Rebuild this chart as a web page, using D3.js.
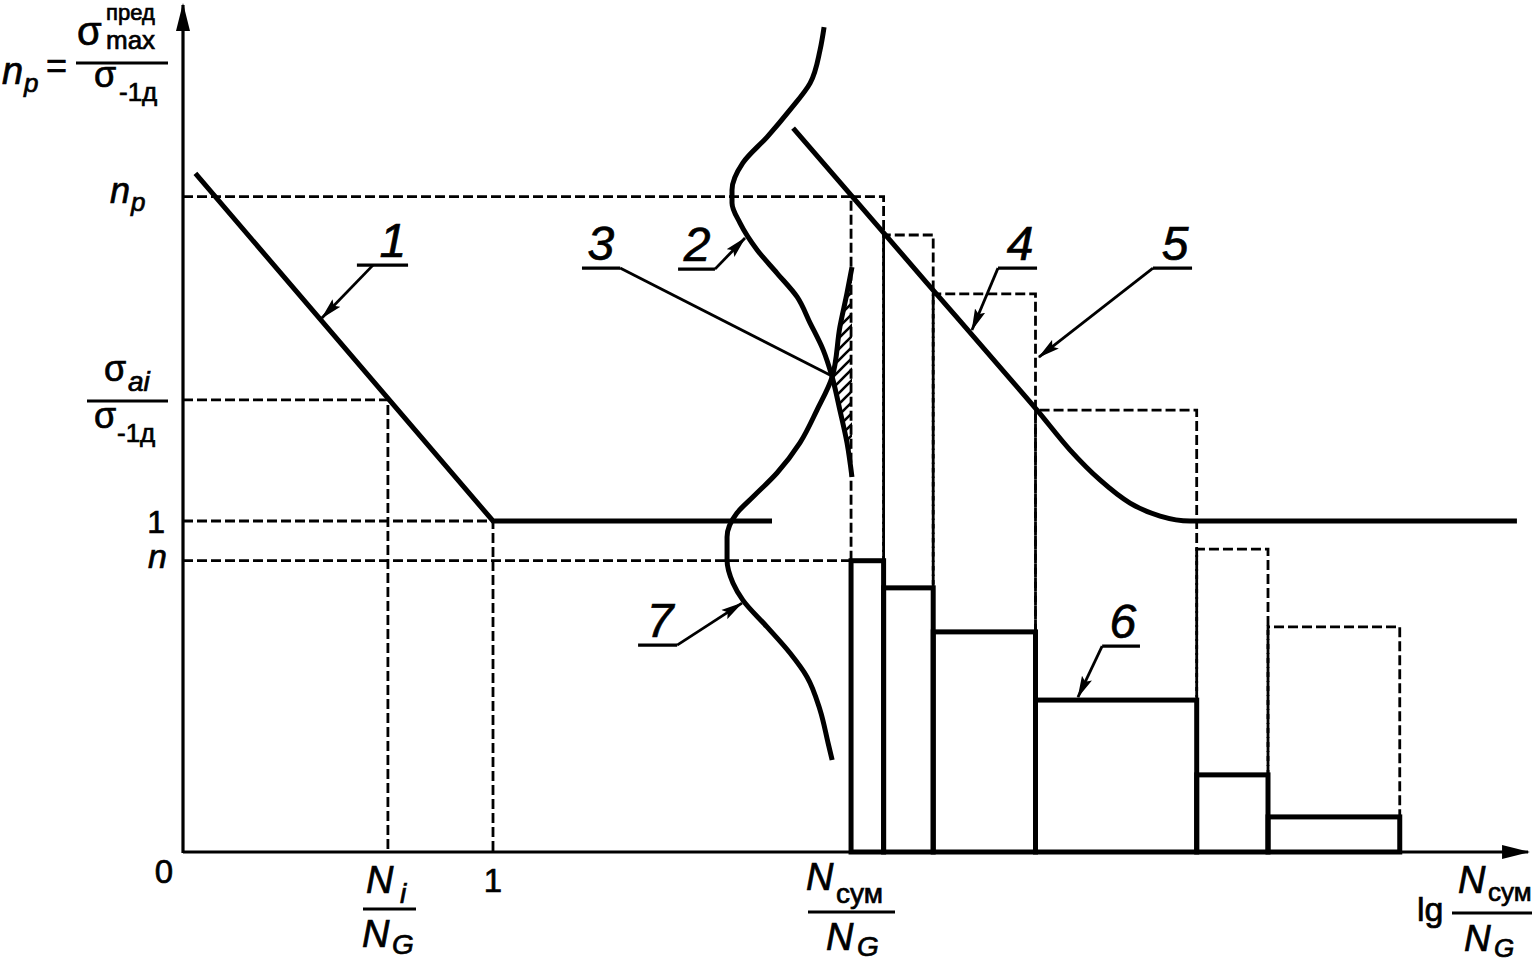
<!DOCTYPE html>
<html>
<head>
<meta charset="utf-8">
<script src="https://cdnjs.cloudflare.com/ajax/libs/d3/7.8.5/d3.min.js"></script>
<style>
  body { margin: 0; background: #fff; }
  svg { display: block; font-family: "Liberation Sans", Arial, sans-serif; }
  svg text { stroke: #000; stroke-width: 0.7; }
  .dash { fill: none; stroke: #000; stroke-width: 2.8; stroke-dasharray: 10 4; }
  .thick { fill: none; stroke: #000; stroke-width: 5; stroke-linejoin: miter; }
  .axis { stroke: #000; stroke-width: 3.2; }
  .lead { fill: none; stroke: #000; stroke-width: 2.8; }
</style>
</head>
<body>
<svg width="1535" height="962"></svg>
<script>
// ---- data (x = lg N/NG units, y = n units) ----
const lineOne = [[0.04, 2.05], [1, 1], [1.9, 1]];
const lineFour = [[1.968, 2.187], [2.4, 1.719], [2.65, 1.449], [2.755, 1.335], [2.861, 1.215],
  [2.958, 1.124], [3.055, 1.054], [3.152, 1.015], [3.248, 1.0], [4.303, 1.0]];
const curveTwo = [[2.068, 2.492], [2.055, 2.423], [2.023, 2.323], [1.958, 2.242], [1.884, 2.160],
  [1.806, 2.082], [1.771, 2.0], [1.771, 1.961], [1.797, 1.9], [1.852, 1.819], [1.916, 1.749],
  [1.981, 1.677], [2.023, 1.598], [2.065, 1.517], [2.094, 1.435], [2.119, 1.335], [2.142, 1.236],
  [2.158, 1.133]];
const curveSeven = [[2.158, 1.767], [2.142, 1.689], [2.119, 1.586], [2.094, 1.435], [2.045, 1.335],
  [1.99, 1.236], [1.916, 1.145], [1.839, 1.073], [1.787, 1.024], [1.755, 0.952], [1.755, 0.882],
  [1.774, 0.813], [1.806, 0.761], [1.884, 0.68], [1.958, 0.601], [2.013, 0.529], [2.055, 0.429],
  [2.081, 0.329], [2.094, 0.278]];
const crossY = 1.435;
const binEdges = [2.155, 2.26, 2.42, 2.75, 3.27, 3.5, 3.925];
const limitTops = [1.98, 1.864, 1.686, 1.335, 0.915, 0.68];
const loadTops = [0.88, 0.798, 0.665, 0.459, 0.233, 0.106];
const levelNp = 1.98, levelSai = 1.366, levelOne = 1, levelN = 0.88;
const xNi = 0.661, xOne = 1, xNsum = 2.155;
const xMax = 4.339, yMax = 2.559;

// callouts: tip point, underline span, leader start, label x
const callouts = [
  { label: "1", tip: [0.448, 1.613], ul: [0.561, 0.726], uy: 1.773, from: 0.613, tx: 0.677, arrow: true },
  { label: "2", tip: [1.813, 1.855], ul: [1.597, 1.716], uy: 1.761, from: 1.716, tx: 1.658, arrow: true },
  { label: "3", tip: [2.087, 1.441], ul: [1.287, 1.41], uy: 1.764, from: 1.41, tx: 1.348, arrow: false },
  { label: "4", tip: [2.545, 1.577], ul: [2.629, 2.755], uy: 1.764, from: 2.629, tx: 2.7, arrow: true },
  { label: "5", tip: [2.761, 1.495], ul: [3.129, 3.255], uy: 1.764, from: 3.129, tx: 3.2, arrow: true },
  { label: "6", tip: [2.887, 0.468], ul: [2.965, 3.087], uy: 0.622, from: 2.965, tx: 3.032, arrow: true },
  { label: "7", tip: [1.803, 0.752], ul: [1.468, 1.594], uy: 0.625, from: 1.594, tx: 1.539, arrow: true }
];

const svg = d3.select("svg");
const x = d3.scaleLinear().domain([0, 1]).range([183, 493]);
const y = d3.scaleLinear().domain([0, 1]).range([852, 521]);

const defs = svg.append("defs");
defs.append("marker")
  .attr("id", "axisArrow")
  .attr("viewBox", "0 -8 28 16")
  .attr("refX", 26).attr("refY", 0)
  .attr("markerUnits", "userSpaceOnUse")
  .attr("markerWidth", 28).attr("markerHeight", 16)
  .attr("orient", "auto")
  .append("path").attr("d", "M0,-7L28,0L0,7Z").attr("fill", "#000");
defs.append("marker")
  .attr("id", "leadArrow")
  .attr("viewBox", "0 -6 22 12")
  .attr("refX", 21).attr("refY", 0)
  .attr("markerUnits", "userSpaceOnUse")
  .attr("markerWidth", 22).attr("markerHeight", 12)
  .attr("orient", "auto")
  .append("path").attr("d", "M0,-5.5L22,0L0,5.5L4,0Z").attr("fill", "#000");
defs.append("pattern")
  .attr("id", "hatch")
  .attr("patternUnits", "userSpaceOnUse")
  .attr("width", 11).attr("height", 11)
  .append("path")
  .attr("d", "M-2,2L2,-2M0,11L11,0M9,13L13,9")
  .attr("stroke", "#000").attr("stroke-width", 2.6);

const line = d3.line()
  .x(function (d) { return x(d[0]); })
  .y(function (d) { return y(d[1]); });

// ---- dashed guides ----
const guides = [
  [[0, levelNp], [binEdges[0], levelNp]],
  [[0, levelSai], [xNi, levelSai], [xNi, 0]],
  [[0, levelOne], [xOne, levelOne], [xOne, 0]],
  [[0, levelN], [binEdges[0], levelN]]
];
svg.append("g").selectAll("path")
  .data(guides).enter().append("path")
  .attr("class", "dash")
  .attr("d", line);

// dashed limit bins
svg.append("g").selectAll("path")
  .data(limitTops).enter().append("path")
  .attr("class", "dash")
  .attr("d", function (d, i) {
    return line([[binEdges[i], loadTops[i]], [binEdges[i], d], [binEdges[i + 1], d],
      [binEdges[i + 1], i + 1 < loadTops.length ? loadTops[i + 1] : loadTops[i]]]);
  });

// solid load bins (6)
svg.append("g").selectAll("rect")
  .data(loadTops).enter().append("rect")
  .attr("class", "thick")
  .attr("x", function (d, i) { return x(binEdges[i]); })
  .attr("width", function (d, i) { return x(binEdges[i + 1]) - x(binEdges[i]); })
  .attr("y", function (d) { return y(d); })
  .attr("height", function (d) { return y(0) - y(d); });

// ---- axes ----
svg.append("line").attr("class", "axis")
  .attr("x1", x(0)).attr("y1", y(0)).attr("x2", x(xMax)).attr("y2", y(0))
  .attr("marker-end", "url(#axisArrow)");
svg.append("line").attr("class", "axis")
  .attr("x1", x(0)).attr("y1", y(0) + 1).attr("x2", x(0)).attr("y2", y(yMax))
  .attr("marker-end", "url(#axisArrow)");

// ---- hatched overlap of curves 2 and 7 ----
const overlap = curveTwo.filter(function (d) { return d[1] <= crossY; })
  .concat(curveSeven.filter(function (d) { return d[1] >= crossY; }));
svg.append("path")
  .attr("d", line(overlap) + "Z")
  .attr("fill", "url(#hatch)");

// ---- curves ----
svg.append("path").attr("class", "thick").attr("d", line(lineOne));
svg.append("path").attr("class", "thick")
  .attr("d", line.curve(d3.curveMonotoneX)(lineFour));
line.curve(d3.curveMonotoneY);
svg.append("path").attr("class", "thick").attr("d", line(curveTwo));
svg.append("path").attr("class", "thick").attr("d", line(curveSeven));
line.curve(d3.curveLinear);

// ---- callouts ----
const co = svg.append("g").selectAll("g")
  .data(callouts).enter().append("g");
co.append("line")
  .attr("stroke", "#000").attr("stroke-width", 3.2)
  .attr("x1", function (d) { return x(d.ul[0]); })
  .attr("x2", function (d) { return x(d.ul[1]); })
  .attr("y1", function (d) { return y(d.uy); })
  .attr("y2", function (d) { return y(d.uy); });
co.append("line")
  .attr("class", "lead")
  .attr("x1", function (d) { return x(d.from); })
  .attr("y1", function (d) { return y(d.uy); })
  .attr("x2", function (d) { return x(d.tip[0]); })
  .attr("y2", function (d) { return y(d.tip[1]); })
  .attr("marker-end", function (d) { return d.arrow ? "url(#leadArrow)" : null; });
co.append("text")
  .attr("x", function (d) { return x(d.tx); })
  .attr("y", function (d) { return y(d.uy) - 8; })
  .attr("text-anchor", "middle")
  .attr("font-size", 48)
  .attr("font-style", "italic")
  .text(function (d) { return d.label; });

// ---- text labels ----
function label(px, py, str, size, italic, anchor) {
  return svg.append("text")
    .attr("x", px).attr("y", py)
    .attr("font-size", size)
    .attr("font-style", italic ? "italic" : "normal")
    .attr("text-anchor", anchor || "start")
    .text(str);
}
function bar(x1, x2, py) {
  svg.append("line").attr("stroke", "#000").attr("stroke-width", 3)
    .attr("x1", x1).attr("x2", x2).attr("y1", py).attr("y2", py);
}

// y axis title
label(2, 84, "n", 38, true);
label(24, 92, "p", 26, true);
label(46, 78, "=", 36);
bar(76, 168, 63);
label(77, 45, "σ", 40);
label(106, 20, "пред", 22);
label(106, 49, "max", 26);
label(94, 87, "σ", 36);
label(119, 101, "-1д", 26);

// y labels
label(110, 203, "n", 36, true);
label(131, 211, "p", 26, true);
bar(87, 168, 401);
label(104, 381, "σ", 36);
label(128, 391, "ai", 28, true);
label(94, 428, "σ", 36);
label(117, 442, "-1д", 26);
label(165, 533, "1", 32, false, "end");
label(148, 568, "n", 34, true);
label(173, 883, "0", 33, false, "end");

// x labels
label(366, 893, "N", 38, true);
label(400, 903, "i", 28, true);
bar(363, 416, 909);
label(362, 947, "N", 38, true);
label(392, 954, "G", 28, true);
label(x(xOne), 892, "1", 33, false, "middle");

label(806, 890, "N", 38, true);
label(836, 903, "сум", 28);
bar(808, 895, 912);
label(826, 950, "N", 38, true);
label(857, 956, "G", 28, true);

label(1417, 921, "lg", 34);
label(1458, 893, "N", 38, true);
label(1488, 901, "сум", 26);
bar(1452, 1532, 913);
label(1464, 951, "N", 37, true);
label(1494, 957, "G", 26, true);
</script>
</body>
</html>
